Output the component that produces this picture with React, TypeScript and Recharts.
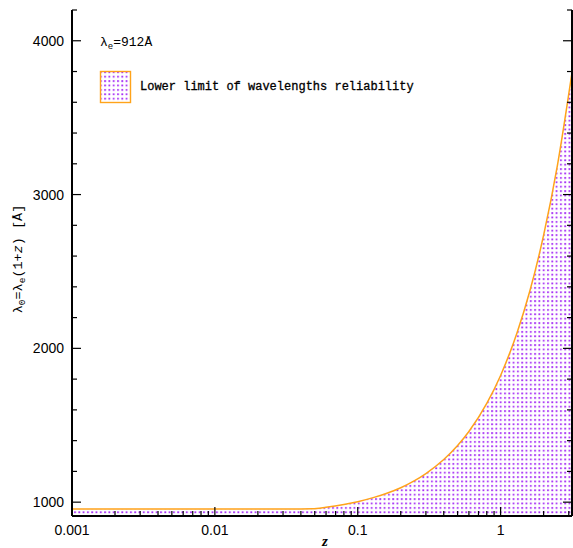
import { ComposedChart, Area, XAxis, YAxis } from 'recharts';

const zValues = [0.001, 0.005, 0.01, 0.02, 0.03, 0.04, 0.048, 0.06, 0.08, 0.1, 0.13, 0.16, 0.2, 0.25, 0.3, 0.4, 0.5, 0.6, 0.8, 1, 1.3, 1.6, 2, 2.5, 3.16];
const lambdaObs = [956, 956, 956, 956, 956, 956, 957, 967, 985, 1003, 1031, 1058, 1094, 1140, 1186, 1277, 1368, 1459, 1642, 1824, 2098, 2371, 2736, 3192, 3794];

const xDecades = [0.001, 0.01, 0.1, 1];
const xLabels = ['0.001', '0.01', '0.1', '1'];
const yMajor = [1000, 2000, 3000, 4000];
const yTicks = [1000, 1200, 1400, 1600, 1800, 2000, 2200, 2400, 2600, 2800, 3000, 3200, 3400, 3600, 3800, 4000, 4200];

const X_DOMAIN: [number, number] = [0.001, 3.16];
const Y_DOMAIN: [number, number] = [910, 4200];

const xTicks = xDecades.flatMap(d => [1, 2, 3, 4, 5, 6, 7, 8, 9].map(k => +(k * d).toPrecision(3))).filter(v => v <= X_DOMAIN[1]);

const data = zValues.map((z, i) => ({ z, lam: lambdaObs[i] }));

const TICK_FONT = '"Liberation Sans", Arial, sans-serif';
const HERSHEY = '"Liberation Mono", "Courier New", monospace';
const DOT = '#a52cf5';
const ORANGE = '#ffa31a';

const isMajorX = (v: number) => xDecades.some(d => Math.abs(v - d) < d * 1e-6);

function BottomTick(props: any) {
  const { x, y, payload } = props;
  const major = isMajorX(payload.value);
  const idx = xDecades.findIndex(d => Math.abs(payload.value - d) < d * 1e-6);
  return (
    <g>
      <line x1={x} x2={x} y1={y} y2={y - (major ? 9 : 5)} stroke="#000" strokeWidth={1.2} />
      {major && (
        <text x={x} y={y + 19} textAnchor="middle" fontFamily={TICK_FONT} fontSize={14} fill="#000">
          {xLabels[idx]}
        </text>
      )}
    </g>
  );
}

function TopTick(props: any) {
  const { x, y, payload } = props;
  const major = isMajorX(payload.value);
  return <line x1={x} x2={x} y1={y} y2={y + (major ? 9 : 5)} stroke="#000" strokeWidth={1.2} />;
}

function LeftTick(props: any) {
  const { x, y, payload } = props;
  const major = yMajor.includes(payload.value);
  return (
    <g>
      <line x1={x} x2={x + (major ? 9 : 5)} y1={y} y2={y} stroke="#000" strokeWidth={1.2} />
      {major && (
        <text x={x - 8} y={y + 5} textAnchor="end" fontFamily={TICK_FONT} fontSize={14} fill="#000">
          {payload.value}
        </text>
      )}
    </g>
  );
}

function RightTick(props: any) {
  const { x, y, payload } = props;
  const major = yMajor.includes(payload.value);
  return <line x1={x} x2={x - (major ? 9 : 5)} y1={y} y2={y} stroke="#000" strokeWidth={1.2} />;
}

export default function App() {
  return (
    <div style={{ position: 'absolute', left: 0, top: 0, width: 573, height: 548, background: '#fff' }}>
      <ComposedChart width={573} height={548} data={data} margin={{ top: 10, right: 0, bottom: 0, left: 0 }}>
        <defs>
          <pattern id="dots" patternUnits="userSpaceOnUse" width={4.3} height={4.4}>
            <rect x={1} y={1} width={1.8} height={1.8} fill={DOT} />
          </pattern>
        </defs>
        <XAxis
          dataKey="z"
          type="number"
          scale="log"
          domain={X_DOMAIN}
          allowDataOverflow
          ticks={xTicks}
          interval={0}
          tick={<BottomTick />}
          tickLine={false}
          tickSize={0}
          tickMargin={0}
          height={32}
          axisLine={{ stroke: '#000', strokeWidth: 2 }}
        />
        <XAxis
          xAxisId="top"
          orientation="top"
          dataKey="z"
          type="number"
          scale="log"
          domain={X_DOMAIN}
          allowDataOverflow
          ticks={xTicks}
          interval={0}
          tick={<TopTick />}
          tickLine={false}
          tickSize={0}
          tickMargin={0}
          height={0}
          axisLine={{ stroke: '#000', strokeWidth: 2 }}
        />
        <YAxis
          type="number"
          domain={Y_DOMAIN}
          allowDataOverflow
          ticks={yTicks}
          interval={0}
          tick={<LeftTick />}
          tickLine={false}
          tickSize={0}
          tickMargin={0}
          width={72}
          axisLine={{ stroke: '#000', strokeWidth: 2 }}
        />
        <YAxis
          yAxisId="right"
          orientation="right"
          type="number"
          domain={Y_DOMAIN}
          allowDataOverflow
          ticks={yTicks}
          interval={0}
          tick={<RightTick />}
          tickLine={false}
          tickSize={0}
          tickMargin={0}
          width={1}
          axisLine={{ stroke: '#000', strokeWidth: 2 }}
        />
        <Area
          dataKey="lam"
          type="monotone"
          stroke={ORANGE}
          strokeWidth={1.5}
          fill="url(#dots)"
          fillOpacity={1}
          baseValue={Y_DOMAIN[0]}
          isAnimationActive={false}
          dot={false}
          activeDot={false}
        />
      </ComposedChart>
      <svg width={573} height={548} style={{ position: 'absolute', left: 0, top: 0, pointerEvents: 'none' }}>
        <defs>
          <pattern id="legdots" patternUnits="userSpaceOnUse" width={4.3} height={4.4}>
            <rect x={1} y={1} width={1.8} height={1.8} fill={DOT} />
          </pattern>
        </defs>
        <g fill="#000" fontFamily={HERSHEY}>
          <text x={100} y={46} fontSize={13}>
            λ<tspan fontSize={9} dy={3}>e</tspan><tspan dy={-3}>=912Å</tspan>
          </text>
          <rect x={100.5} y={71.5} width={30} height={31} fill="url(#legdots)" stroke={ORANGE} strokeWidth={1.4} />
          <text x={140} y={90} fontSize={12} stroke="#000" strokeWidth={0.3}>
            Lower limit of wavelengths reliability
          </text>
          <text x={325} y={546} textAnchor="middle" fontFamily='"Liberation Serif", serif' fontStyle="italic" fontWeight="bold" fontSize={15}>
            z
          </text>
          <text transform="translate(22,259) rotate(-90)" textAnchor="middle" fontSize={13.5}>
            λ<tspan fontSize={9.5} dy={3}>0</tspan><tspan dy={-3}>=λ</tspan><tspan fontSize={9.5} dy={3}>e</tspan><tspan dy={-3}>(1+</tspan><tspan fontStyle="italic">z</tspan>) [Å]
          </text>
        </g>
      </svg>
    </div>
  );
}
